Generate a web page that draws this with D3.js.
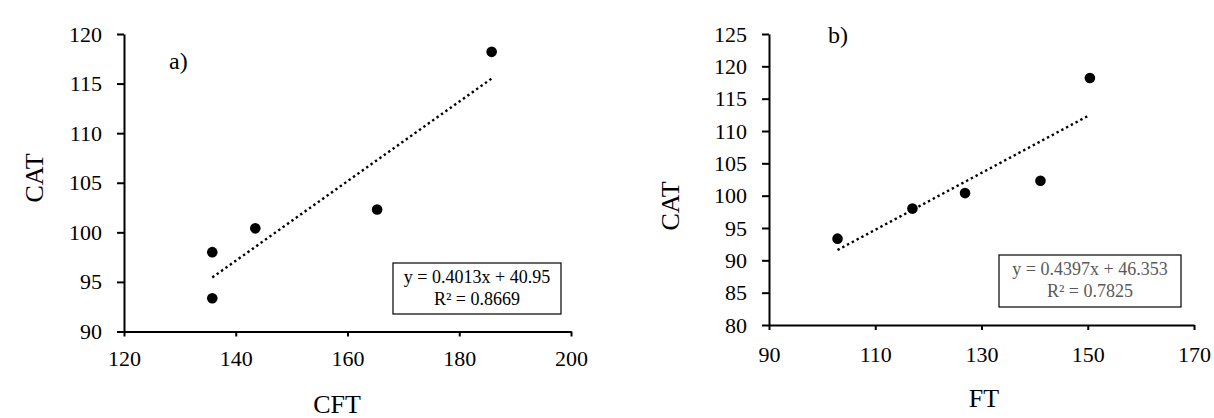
<!DOCTYPE html>
<html>
<head>
<meta charset="utf-8">
<script src="https://cdn.jsdelivr.net/npm/d3@7"></script>
<style>
  html, body { margin: 0; padding: 0; background: #fff; }
  svg { display: block; font-family: "Liberation Serif", "Times New Roman", serif; }
  svg text { font-family: "Liberation Serif", "Times New Roman", serif; }
</style>
</head>
<body>
<svg id="chart" width="1214" height="418"></svg>
<script>
// ---- Data ----
const catValues = [93.35, 98.0, 100.4, 102.3, 118.2];
const cftValues = [135.8, 135.8, 143.5, 165.3, 185.8];
const ftValues  = [102.9, 117.0, 126.9, 141.1, 150.4];

const cftTicks = [120, 140, 160, 180, 200];
const catTicksA = [90, 95, 100, 105, 110, 115, 120];
const ftTicks = [90, 110, 130, 150, 170];
const catTicksB = [80, 85, 90, 95, 100, 105, 110, 115, 120, 125];

const trendA = { slope: 0.4013, intercept: 40.95, eq: "y = 0.4013x + 40.95", r2: "R² = 0.8669" };
const trendB = { slope: 0.4397, intercept: 46.353, eq: "y = 0.4397x + 46.353", r2: "R² = 0.7825" };

const FONT = "Liberation Serif";
const svg = d3.select("#chart");

function panel(cfg) {
  const x = d3.scaleLinear().domain(cfg.xDomain).range(cfg.xRange);
  const y = d3.scaleLinear().domain(cfg.yDomain).range(cfg.yRange);
  const g = svg.append("g");

  // trend line
  const x0 = d3.min(cfg.xs), x1 = d3.max(cfg.xs);
  g.append("line")
    .attr("x1", x(x0)).attr("y1", y(cfg.trend.slope * x0 + cfg.trend.intercept))
    .attr("x2", x(x1)).attr("y2", y(cfg.trend.slope * x1 + cfg.trend.intercept))
    .attr("stroke", "#000").attr("stroke-width", 2.4)
    .attr("stroke-dasharray", "2.4,3");

  // points
  g.selectAll("circle.pt").data(cfg.xs.map((d, i) => [d, cfg.ys[i]]))
    .enter().append("circle")
    .attr("cx", d => x(d[0])).attr("cy", d => y(d[1]))
    .attr("r", 5.3).attr("fill", "#000");

  // axes
  const ya = g.append("g").attr("transform", `translate(${cfg.xRange[0]},0)`)
    .call(d3.axisLeft(y).tickValues(cfg.yTicks).tickSize(7).tickSizeOuter(0).tickPadding(15).tickFormat(d3.format("d")));
  const xa = g.append("g").attr("transform", `translate(0,${cfg.yRange[0]})`)
    .call(d3.axisBottom(x).tickValues(cfg.xTicks).tickSize(5).tickSizeOuter(0).tickPadding(cfg.xPad).tickFormat(d3.format("d")));
  [ya, xa].forEach(a => {
    a.attr("font-family", FONT).attr("font-size", 22);
    a.select(".domain").attr("stroke", "#000").attr("stroke-width", 2);
    a.selectAll(".tick line").attr("stroke", "#000").attr("stroke-width", 2);
    a.selectAll(".tick text").attr("fill", "#000")
      .attr("font-family", FONT).attr("font-size", 22);
  });

  // axis titles
  g.append("text").attr("x", cfg.xTitle[0]).attr("y", cfg.xTitle[1])
    .attr("text-anchor", "middle").attr("font-size", 26).text(cfg.xLabel);
  g.append("text")
    .attr("transform", `translate(${cfg.yTitle[0]},${cfg.yTitle[1]}) rotate(-90)`)
    .attr("text-anchor", "middle").attr("font-size", 26).text("CAT");

  // panel label
  g.append("text").attr("x", cfg.tag[0]).attr("y", cfg.tag[1])
    .attr("font-size", 24).text(cfg.tagText);

  // equation box
  const b = cfg.box;
  g.append("rect").attr("x", b[0]).attr("y", b[1]).attr("width", b[2]).attr("height", b[3])
    .attr("fill", "#fff").attr("stroke", "#000").attr("stroke-width", 1.2);
  g.append("text").attr("x", b[0] + b[2] / 2).attr("y", b[1] + 20)
    .attr("text-anchor", "middle").attr("fill", cfg.eqColor).attr("font-size", 18).text(cfg.trend.eq);
  g.append("text").attr("x", b[0] + b[2] / 2).attr("y", b[1] + 42)
    .attr("text-anchor", "middle").attr("fill", cfg.eqColor).attr("font-size", 18).text(cfg.trend.r2);
}

panel({
  xs: cftValues, ys: catValues,
  xDomain: [120, 200], xRange: [124, 571],
  yDomain: [90, 120], yRange: [331.5, 34],
  xTicks: cftTicks, yTicks: catTicksA, xPad: 14,
  trend: trendA, xLabel: "CFT",
  xTitle: [337, 413], yTitle: [43, 178],
  tag: [169, 69], tagText: "a)",
  box: [393, 263, 168, 51], eqColor: "#000"
});

panel({
  xs: ftValues, ys: catValues,
  xDomain: [90, 170], xRange: [769, 1194],
  yDomain: [80, 125], yRange: [325, 34],
  xTicks: ftTicks, yTicks: catTicksB, xPad: 16,
  trend: trendB, xLabel: "FT",
  xTitle: [984, 407], yTitle: [679, 206],
  tag: [828, 43], tagText: "b)",
  box: [999, 255, 182, 52], eqColor: "#595959"
});
</script>
</body>
</html>
